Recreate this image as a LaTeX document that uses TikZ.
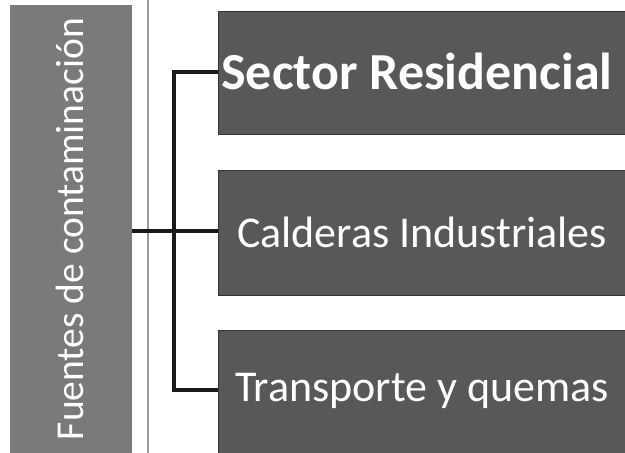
\documentclass[tikz,border=0pt]{standalone}
\usepackage{fontspec}
\setmainfont{Carlito}
\definecolor{leftgrey}{HTML}{7A7A7A}
\definecolor{boxgrey}{HTML}{585858}
\definecolor{thinline}{HTML}{9A9A9A}
\tikzset{
  catbox/.style={fill=boxgrey, draw=black!80, line width=0.8pt, minimum width=420pt, minimum height=123pt, anchor=north west, inner sep=0pt},
  cattext/.style={text=white, font=\fontsize{44}{46}\selectfont, inner sep=0pt},
  conn/.style={draw=black!90, line width=3.2pt}
}
\begin{document}
\begin{tikzpicture}[x=1pt,y=-1pt]
\useasboundingbox (0,0) rectangle (625,453);
\fill[white] (0,0) rectangle (625,453);
% left box
\node[fill=leftgrey, minimum width=122pt, minimum height=460pt, anchor=north west, inner sep=0pt] (src) at (10,5) {};
\node[cattext, rotate=90, font=\fontsize{39.5}{41}\selectfont] (srct) at (70,229) {Fuentes de contaminación};
% thin vertical line
\draw[thinline, line width=1.2pt] (148,-2) -- (148,460);
% right boxes
\node[catbox] (b1) at (218,11) {};
\node[catbox, minimum height=125pt] (b2) at (218,170) {};
\node[catbox] (b3) at (218,330) {};
\node[cattext, font=\bfseries\fontsize{52}{54}\selectfont] (t1) at (417,71) {Sector Residencial};
\node[cattext] (t2) at (422,232) {Calderas Industriales};
\node[cattext] (t3) at (422,391) {Transporte y quemas};
% connectors
\coordinate (hub) at (174,231);
\coordinate (top) at (174,72);
\coordinate (bot) at (174,390);
\draw[conn] (src.east |- hub) -- (b2.west |- hub);
\draw[conn] (b1.west |- top) -- (top) -- (bot) -- (b3.west |- bot);
\end{tikzpicture}
\end{document}
